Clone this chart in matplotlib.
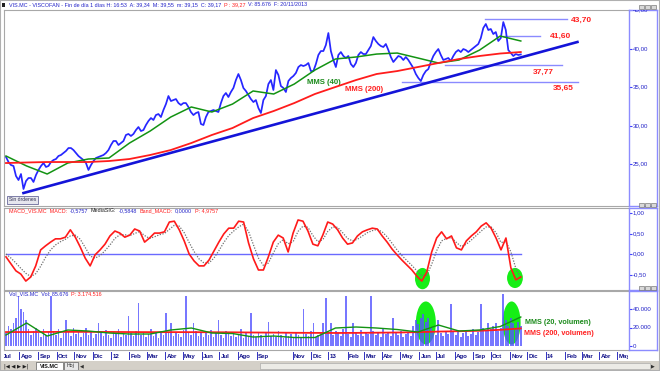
import numpy as np
import pandas as pd
import matplotlib
matplotlib.use('Agg')
import matplotlib.pyplot as plt
from matplotlib.patches import Ellipse, Rectangle
import matplotlib.transforms as mtransforms

plt.rcParams['font.family'] = ['Liberation Sans', 'DejaVu Sans']

# ---------------- data ----------------
# closing prices, one value every 3 trading days, 2011-07 .. 2013-11-20
close = [25.90, 25.25, 24.86, 24.74, 23.44, 22.92, 23.70, 21.76, 22.79, 23.18,
         23.18, 22.67, 23.57, 24.22, 24.74, 25.12, 24.61, 24.74, 25.25, 25.51,
         25.64, 26.03, 26.16, 26.42, 26.68, 27.06, 27.06, 26.80, 26.42, 26.03,
         25.77, 25.51, 25.12, 24.22, 24.86, 25.38, 25.77, 25.90, 26.03, 26.16,
         26.42, 26.80, 27.45, 27.97, 27.97, 27.45, 27.71, 27.97, 28.75, 28.88,
         28.62, 28.88, 29.39, 29.78, 29.26, 29.39, 30.04, 30.56, 30.94, 30.69,
         31.33, 31.46, 31.07, 31.98, 32.75, 33.79, 33.14, 33.27, 33.40, 32.88,
         32.63, 32.88, 32.88, 32.37, 31.72, 31.33, 31.59, 31.72, 30.17, 30.04,
         31.07, 31.72, 31.85, 31.98, 31.85, 31.72, 32.88, 33.79, 34.18, 33.66,
         34.31, 34.83, 35.86, 36.64, 35.86, 34.83, 34.44, 33.92, 33.40, 33.01,
         33.27, 32.24, 31.59, 33.27, 33.79, 35.34, 35.86, 34.57, 37.15, 36.51,
         35.08, 34.83, 34.31, 35.73, 36.12, 36.38, 36.77, 37.54, 37.80, 37.67,
         37.80, 38.06, 37.02, 37.02, 37.93, 39.10, 39.61, 39.61, 40.39, 41.94,
         39.61, 38.45, 37.54, 39.10, 39.48, 38.97, 38.71, 38.97, 37.93, 37.54,
         38.06, 39.10, 39.48, 39.22, 39.22, 39.74, 40.26, 41.42, 40.91, 40.52,
         40.26, 40.13, 40.52, 39.74, 38.84, 38.19, 38.58, 38.97, 38.84, 38.45,
         38.84, 38.45, 37.93, 37.41, 36.64, 36.12, 35.73, 36.51, 37.02, 37.28,
         38.19, 38.97, 39.48, 39.87, 39.10, 38.45, 38.58, 38.71, 38.32, 38.97,
         39.48, 39.74, 39.48, 39.87, 39.74, 39.48, 39.74, 40.00, 40.26, 40.52,
         41.29, 42.59, 43.11, 42.33, 42.46, 41.81, 42.07, 40.91, 41.29, 43.36,
         42.33, 39.74, 39.35, 38.97, 39.22, 39.10, 39.17]

# volume (thousands of shares), same sampling as close
volume_k = [14, 22, 18, 25, 30, 54, 40, 37, 28, 18,
            12, 16, 20, 14, 10, 18, 12, 15, 54, 16,
            12, 18, 9, 14, 28, 15, 11, 20, 13, 16,
            10, 14, 19, 12, 16, 9, 13, 25, 14, 11,
            17, 12, 9, 15, 13, 18, 10, 14, 12, 32,
            14, 11, 16, 47, 12, 15, 10, 13, 18, 11,
            14, 9, 16, 12, 36, 14, 25, 11, 15, 13,
            10, 17, 54, 14, 12, 25, 16, 11, 14, 10,
            15, 12, 17, 10, 14, 28, 12, 9, 16, 13,
            11, 15, 10, 13, 18, 9, 14, 11, 36, 12,
            10, 15, 12, 9, 14, 26, 11, 13, 10, 16,
            12, 9, 14, 11, 13, 10, 15, 12, 9, 40,
            13, 11, 16, 25, 10, 12, 14, 25, 52, 15,
            25, 12, 16, 14, 11, 18, 54, 13, 10, 25,
            14, 12, 17, 11, 15, 13, 54, 16, 12, 14,
            10, 18, 13, 15, 11, 30, 14, 12, 16, 10,
            13, 15, 11, 22, 28, 24, 30, 35, 26, 30,
            20, 15, 12, 28, 14, 11, 16, 13, 45, 15,
            12, 17, 10, 14, 16, 11, 13, 18, 12, 15,
            45, 20, 16, 25, 18, 22, 25, 16, 20, 56,
            28, 22, 30, 25, 20, 26, 22]

# moving averages, 26 evenly spaced samples over the data span
mms40 = [26.03, 24.74, 23.70, 25.12, 25.64, 25.77, 27.71, 29.26, 31.07, 32.37,
         31.72, 32.75, 34.44, 34.05, 35.34, 37.15, 38.58, 38.84, 39.22, 39.35,
         38.71, 38.06, 38.45, 39.74, 41.55, 40.91]
mms200 = [25.12, 25.19, 25.25, 25.25, 25.25, 25.38, 25.64, 26.16, 26.80, 27.71,
          28.75, 29.65, 30.94, 31.85, 32.88, 34.05, 34.96, 35.86, 36.64, 37.02,
          37.54, 38.06, 38.58, 38.97, 39.29, 39.48]
vol_mms20 = [11900, 24900, 10800, 17300, 16200, 14050, 12970, 12970, 17300, 19460,
             14050, 13500, 9730, 10800, 9190, 9190, 19460, 20540, 19460, 17840,
             15140, 22700, 16200, 17300, 21080, 31350]
vol_mms200 = [15100, 15100, 15200, 15300, 15300, 15200, 15100, 15000, 15000, 15000,
              14900, 14800, 14600, 14500, 14300, 14200, 14100, 14200, 14400, 14600,
              15000, 15600, 16000, 16500, 17500, 19000]

# MACD and signal, 105 evenly spaced samples
macd = [-0.07, -0.24, -0.41, -0.49, -0.66, -0.56, -0.29, 0.10, 0.20, 0.29,
        0.37, 0.37, 0.41, 0.59, 0.41, 0.17, -0.10, -0.29, -0.02, 0.10,
        0.24, 0.44, 0.56, 0.51, 0.41, 0.46, 0.61, 0.56, 0.29, 0.39,
        0.51, 0.51, 0.54, 0.78, 0.80, 0.59, 0.32, 0.00, -0.17, -0.29,
        -0.29, -0.15, 0.07, 0.29, 0.49, 0.63, 0.63, 0.80, 0.78, 0.27,
        -0.12, -0.39, -0.39, -0.07, 0.29, 0.46, 0.39, 0.05, 0.51, 0.83,
        0.80, 0.56, 0.24, 0.20, 0.46, 0.78, 0.73, 0.59, 0.39, 0.24,
        0.27, 0.44, 0.54, 0.59, 0.63, 0.61, 0.44, 0.29, 0.12, -0.02,
        -0.15, -0.27, -0.39, -0.54, -0.66, -0.44, 0.05, 0.39, 0.54, 0.37,
        0.44, 0.15, 0.10, 0.32, 0.44, 0.54, 0.68, 0.76, 0.63, 0.39,
        0.10, 0.39, -0.34, -0.63, -0.56]
signal = [0.00, -0.10, -0.22, -0.35, -0.47, -0.55, -0.48, -0.30, -0.08, 0.10,
          0.22, 0.30, 0.36, 0.44, 0.46, 0.36, 0.16, -0.05, -0.10, -0.04,
          0.08, 0.22, 0.38, 0.47, 0.47, 0.45, 0.50, 0.55, 0.45, 0.38,
          0.42, 0.47, 0.50, 0.60, 0.70, 0.68, 0.52, 0.28, 0.06, -0.12,
          -0.22, -0.22, -0.10, 0.08, 0.28, 0.45, 0.56, 0.66, 0.73, 0.55,
          0.22, -0.10, -0.28, -0.22, 0.02, 0.25, 0.35, 0.25, 0.30, 0.55,
          0.68, 0.65, 0.45, 0.30, 0.35, 0.55, 0.66, 0.65, 0.52, 0.38,
          0.32, 0.36, 0.44, 0.52, 0.57, 0.60, 0.54, 0.42, 0.26, 0.10,
          -0.04, -0.16, -0.28, -0.41, -0.53, -0.52, -0.25, 0.08, 0.32, 0.38,
          0.40, 0.28, 0.18, 0.24, 0.34, 0.45, 0.56, 0.66, 0.66, 0.52,
          0.28, 0.30, 0.05, -0.35, -0.58]

levels = [43.70, 41.60, 37.77, 35.65]
level_labels = ['43,70', '41,60', '37,77', '35,65']
trend_dates = ['2011-08-08', '2014-02-24']
trend_prices = [21.24, 40.78]

price_ticks = [25, 30, 35, 40, 45]
price_tick_labels = ['25,00', '30,00', '35,00', '40,00', '45,00']
macd_ticks = [-0.5, 0.0, 0.5, 1.0]
macd_tick_labels = ['-0,50', '0,00', '0,50', '1,00']
vol_ticks = [0, 20000, 40000]
vol_tick_labels = ['0', '20.000', '40.000']
month_labels = ['Jul', 'Ago', 'Sep', 'Oct', 'Nov', 'Dic', '12', 'Feb', 'Mar', 'Abr',
                'May', 'Jun', 'Jul', 'Ago', 'Sep', 'Nov', 'Dic', '13', 'Feb', 'Mar',
                'Abr', 'May', 'Jun', 'Jul', 'Ago', 'Sep', 'Oct', 'Nov', 'Dic', '14',
                'Feb', 'Mar', 'Abr', 'May']

# ---------------- scales ----------------
STEP = 3
n_bars = (len(close) - 1) * STEP + 1
days = pd.bdate_range(end='2013-11-20', periods=n_bars)
start = days[0].date()
px = np.arange(len(close)) * STEP
last = px[-1]
ma_x = np.linspace(0, last, len(mms40))
macd_x = np.linspace(0, last, len(macd))
vol = np.array(volume_k) * 1000.0

def bar_of(d):
    return np.busday_count(start, pd.Timestamp(d).date())

months = [m for m in pd.date_range('2011-07-01', '2014-05-01', freq='MS') if m.strftime('%Y-%m') != '2012-10']
month_idx = [bar_of(m) for m in months]

W, H = 660, 371
fig = plt.figure(figsize=(6.6, 3.71), dpi=100)
fig.patch.set_facecolor('white')
renderer = fig.canvas.get_renderer()

def px_ax(x0, y0, x1, y1):
    return fig.add_axes([x0 / W, 1 - y1 / H, (x1 - x0) / W, (y1 - y0) / H])

XL = (-2.4, 746.7)
BLUE_TXT = '#2323c8'
GRID = '#a8a8a8'

def style_panel(ax):
    ax.set_xlim(*XL)
    ax.set_xticks([]); ax.set_yticks([])
    for s in ax.spines.values():
        s.set_color(GRID); s.set_linewidth(0.8)
    ax.spines['right'].set_visible(False)
    ax.set_facecolor('white')

def strip(y0, y1, ylim, ticks, labels):
    s = px_ax(629, y0, 657, y1)
    s.set_ylim(*ylim)
    s.set_xlim(0, 1)
    s.set_xticks([])
    s.set_yticks(ticks)
    s.set_yticklabels([])
    s.tick_params(axis='y', direction='in', length=2.5, color='#4040ff', width=0.8)
    for sp in s.spines.values():
        sp.set_color('#8c8cff'); sp.set_linewidth(1.0)
    tr = mtransforms.blended_transform_factory(s.transAxes, s.transData)
    for v, l in zip(ticks, labels):
        s.text(0.14, v, l, transform=tr, fontsize=4.4, color=BLUE_TXT, va='center', ha='left', clip_on=True)
    for i in range(3):
        fig.patches.append(Rectangle(((639 + i * 6) / W, 1 - (y0 - 1) / H), 5 / W, 4 / H,
                                     transform=fig.transFigure, facecolor='#d8d8d8',
                                     edgecolor='#606060', linewidth=0.4, zorder=5))
    return s

# ---------------- main price panel ----------------
ax = px_ax(4, 10, 628, 206)
style_panel(ax)
ax.set_ylim(19.56, 44.92)
ax.plot(px, close, color='#2626ff', lw=1.25, zorder=4)
ax.plot(ma_x, mms40, color='#139313', lw=1.1, zorder=5)
ax.plot(ma_x, mms200, color='#ff1c1c', lw=1.3, zorder=5)
tx = [bar_of(d) for d in trend_dates]
ax.plot(tx, trend_prices, color='#1414d8', lw=1.9, zorder=6)
spans = [(575, 673), (597, 641), (527, 667), (475, 687)]
lab_pos = [(678, 43.62), (653, 41.55), (633, 36.9), (657, 34.83)]
for lv, (a, b), lab, (lx, ly) in zip(levels, spans, level_labels, lab_pos):
    ax.plot([a, b], [lv, lv], color='#8a8aff', lw=1.0, zorder=3)
    ax.text(lx, ly, lab, color='#ff2020', fontsize=6, fontweight='bold', va='center', ha='left')
ax.text(361, 35.6, 'MMS (40)', color='#1a8a1a', fontsize=5.6, fontweight='bold', va='center', ha='left')
ax.text(407, 34.57, 'MMS (200)', color='#ff2020', fontsize=5.6, fontweight='bold', va='center', ha='left')
strip(10, 206, (19.56, 44.92), price_ticks, price_tick_labels)

# "Sin órdenes" button
fig.patches.append(Rectangle((7 / W, 1 - 204 / H), 31 / W, 8 / H, transform=fig.transFigure,
                             facecolor='#e6e6ee', edgecolor='#6a6a9a', linewidth=0.6, zorder=8))
fig.text(22.5 / W, 1 - 200 / H, 'Sin órdenes', fontsize=3.6, color='#303050', ha='center', va='center', zorder=9)

# ---------------- MACD panel ----------------
am = px_ax(4, 208, 628, 290)
style_panel(am)
am.set_ylim(-0.878, 1.122)
am.add_patch(Ellipse((500, -0.60), 18, 0.52, facecolor='#16ee16', edgecolor='none', zorder=1))
am.add_patch(Ellipse((611, -0.585), 19, 0.49, facecolor='#16ee16', edgecolor='none', zorder=1))
am.plot([0, last], [0, 0], color='#6a6aff', lw=1.0, zorder=2)
am.plot(macd_x, signal, color='#707070', lw=0.9, ls=(0, (1, 1.2)), zorder=3)
am.plot(macd_x, macd, color='#ff1a1a', lw=1.2, zorder=4)
strip(208, 290, (-0.878, 1.122), macd_ticks, macd_tick_labels)

# ---------------- volume panel ----------------
av = px_ax(4, 291, 628, 350)
style_panel(av)
av.set_ylim(-4300, 59450)
av.add_patch(Ellipse((504, 24900), 24, 46500, facecolor='#16ee16', edgecolor='none', zorder=1))
av.add_patch(Ellipse((607, 24900), 21.6, 46500, facecolor='#16ee16', edgecolor='none', zorder=1))
av.bar(px, vol, width=2.1, color='#5555ff', alpha=0.8, linewidth=0, zorder=2)
av.plot(ma_x, vol_mms200, color='#ff1c1c', lw=1.3, zorder=4)
av.plot(ma_x, vol_mms20, color='#139313', lw=1.0, zorder=5)
av.text(623, 25000, 'MMS (20, volumen)', color='#1a8a1a', fontsize=5.2, fontweight='bold', va='center', ha='left')
av.text(622, 14000, 'MMS (200, volumen)', color='#ff2020', fontsize=5.2, fontweight='bold', va='center', ha='left')
strip(291, 350, (-4300, 59450), vol_ticks, vol_tick_labels)

# ---------------- date axis ----------------
ad = px_ax(4, 350, 628, 361)
ad.set_xlim(*XL); ad.set_ylim(0, 1)
ad.axis('off')
for i, lab in zip(month_idx, month_labels):
    ad.plot([i, i], [0.85, 0.2], color='#3030c0', lw=0.7, clip_on=True)
    ad.text(i + 1.5, 0.45, lab, fontsize=4.4, fontweight='bold', color='#101088', va='center', ha='left', clip_on=True)

# ---------------- header texts ----------------
def rich(x_px, y_px, pieces, size, gap=2.5):
    x = x_px
    for txt, col in pieces:
        t = fig.text(x / W, 1 - y_px / H, txt, color=col, fontsize=size, ha='left', va='center', zorder=10)
        bb = t.get_window_extent(renderer=renderer)
        x += bb.width + gap

rich(9, 5, [('VIS.MC - VISCOFAN - Fin de día 1 días H: 16:53  A: 39,34  M: 39,55  m: 39,15  C: 39,17', BLUE_TXT),
            ('P : 39,27', '#ff2020'), ('V: 85.676  F: 20/11/2013', BLUE_TXT)], 3.9)
fig.patches.append(Rectangle((2 / W, 1 - 7 / H), 3 / W, 4 / H, transform=fig.transFigure,
                             facecolor='#202020', edgecolor='none', zorder=10))
rich(9, 211, [('MACD_VIS.MC  MACD:', '#ff2020'), ('-0,5757', BLUE_TXT), ('MediaSIG:', '#202020'),
              ('-0,5848', BLUE_TXT), ('Band_MACD:', '#ff2020'), ('0,0000', BLUE_TXT),
              ('P: 4,9757', '#ff2020')], 3.9)
rich(9, 294, [('Vol_VIS.MC  Vol: 85.676', BLUE_TXT), ('P: 3.174.516', '#ff2020')], 3.9)

# ---------------- frame & bottom bar ----------------
fig.patches.append(Rectangle((0, 0), 1, 10 / H, transform=fig.transFigure, facecolor='#d4d0c8',
                             edgecolor='none', zorder=0))
fig.patches.append(Rectangle((0, 0), 1, 1, transform=fig.transFigure, facecolor='none',
                             edgecolor='#b0b0b0', linewidth=1.5, zorder=11))
fig.patches.append(Rectangle((36 / W, 1 / H), 27 / W, 8 / H, transform=fig.transFigure,
                             facecolor='white', edgecolor='#606060', linewidth=0.5, zorder=2))
fig.patches.append(Rectangle((64 / W, 1 / H), 14 / W, 8 / H, transform=fig.transFigure,
                             facecolor='#e8e8e8', edgecolor='#606060', linewidth=0.5, zorder=2))
fig.patches.append(Rectangle((260 / W, 2 / H), 390 / W, 6 / H, transform=fig.transFigure,
                             facecolor='#ecebe6', edgecolor='#a0a0a0', linewidth=0.4, zorder=2))
fig.text(4 / W, 5 / H, '|◀ ◀ ▶ ▶|', fontsize=3.8, color='#202020', va='center', ha='left',
         family=['DejaVu Sans'])
fig.text(49.5 / W, 5 / H, 'VIS.MC', fontsize=4.0, fontweight='bold', color='#101010', va='center', ha='center')
fig.text(71 / W, 5 / H, 'Hoj', fontsize=3.8, color='#303030', va='center', ha='center')
fig.text(82 / W, 5 / H, '◀', fontsize=3.5, color='#303030', va='center', ha='center', family=['DejaVu Sans'])
fig.text(653 / W, 5 / H, '▶', fontsize=3.5, color='#303030', va='center', ha='center', family=['DejaVu Sans'])

fig.savefig('out.png', dpi=100, facecolor='white')
